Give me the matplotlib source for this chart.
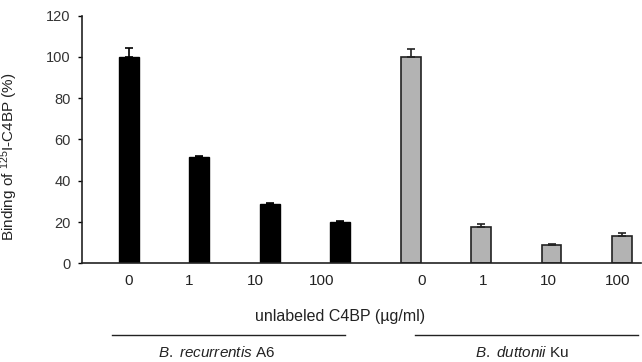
import numpy as np
import matplotlib
matplotlib.use("Agg")
from matplotlib import pyplot as plt
from matplotlib.lines import Line2D

plt.rcParams['font.family'] = ['Liberation Sans', 'DejaVu Sans']
plt.rcParams['mathtext.fontset'] = 'custom'
plt.rcParams['mathtext.rm'] = 'Liberation Sans'
plt.rcParams['mathtext.it'] = 'Liberation Sans:italic'

concentrations = ["0", "1", "10", "100"]
recurrentis = [100, 51.5, 28.5, 20.2]
recurrentis_err = [4.5, 0.5, 0.5, 0.3]
duttonii = [100, 17.8, 8.9, 13.1]
duttonii_err = [3.7, 1.1, 0.5, 1.4]
strains = ["B. recurrentis", "B. duttonii"]
strain_suffix = [" A6", " Ku"]

fig = plt.figure(figsize=(6.42, 3.62), dpi=100)
ax = fig.add_axes([0.1277, 0.2727, 0.8707, 0.6839])

n = len(concentrations)
x1 = np.arange(n)
x2 = np.arange(n, 2 * n)
w = 0.28

ax.bar(x1, recurrentis, w, color='black', edgecolor='black', linewidth=1,
       yerr=[np.zeros(n), recurrentis_err], error_kw=dict(ecolor='black', capsize=3.2, elinewidth=1.2, capthick=1.2))
ax.bar(x2, duttonii, w, color='#b3b3b3', edgecolor='#222222', linewidth=1.2,
       yerr=[np.zeros(n), duttonii_err], error_kw=dict(ecolor='#222222', capsize=3.2, elinewidth=1.2, capthick=1.2))

# tick labels sit slightly off the bar centres in the original
label_shift = [-0.01, -0.14, -0.2, -0.27, 0.15, 0.03, -0.04, -0.06]
ax.set_xticks(np.arange(2 * n) + np.array(label_shift))
ax.set_xticklabels(concentrations * 2, fontsize=11, color='#222222')
ax.tick_params(axis='x', length=0, pad=8)

ax.set_ylim(0, 120)
ax.set_yticks(np.arange(0, 121, 20))
ax.tick_params(axis='y', direction='out', length=3, width=1, labelsize=10.5, labelcolor='#333333', pad=5)
ax.set_xlim(-0.666, 7.27)

for s in ['top', 'right']:
    ax.spines[s].set_visible(False)
for s in ['left', 'bottom']:
    ax.spines[s].set_linewidth(1.2)
    ax.spines[s].set_color('#222222')

ax.set_ylabel(r'Binding of $^{125}$I-C4BP (%)', fontsize=11, color='#222222')
ax.yaxis.set_label_coords(-0.11, 0.43)
fig.text(0.53, 0.127, "unlabeled C4BP (\u00b5g/ml)", fontsize=11.5, color='#222222', ha='center', va='center')

# strain brackets under the axis
fig.add_artist(Line2D([0.1745, 0.537], [0.0746, 0.0746], color='#222222', lw=1))
fig.add_artist(Line2D([0.646, 0.994], [0.0746, 0.0746], color='#222222', lw=1))
for xc, name, suf in zip([0.337, 0.813], strains, strain_suffix):
    fig.text(xc, 0.025, r'$\mathit{' + name.replace(' ', r'\ ') + '}$' + suf, fontsize=11,
             color='#222222', ha='center', va='center')

fig.savefig("out.png", dpi=100)
